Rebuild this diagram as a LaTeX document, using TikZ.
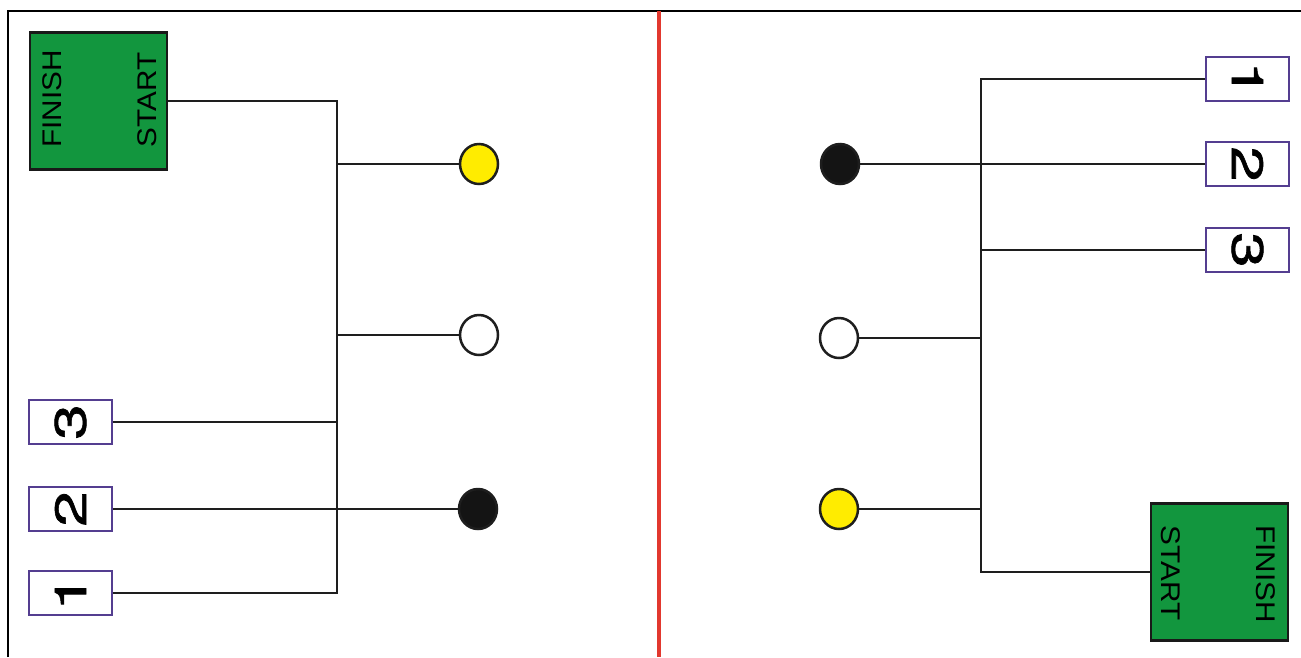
\documentclass[tikz,border=0pt]{standalone}
\usepackage{fontspec}
\newfontfamily\arial{Liberation Sans}
\newfontfamily\digfont[FakeBold=1.2]{TeX Gyre Heros}
\definecolor{boxgreen}{RGB}{18,150,62}
\definecolor{boxpurple}{RGB}{84,62,144}
\definecolor{dotyellow}{RGB}{255,236,0}
\definecolor{redline}{RGB}{226,56,46}
\definecolor{wire}{RGB}{30,30,30}
\usetikzlibrary{shapes.geometric}
\tikzset{
  conn/.style={draw=wire, line width=2.2pt},
  greenbox/.style={draw=black!90, line width=2.8pt, fill=boxgreen, minimum width=137pt, minimum height=137pt, inner sep=0pt},
  numbox/.style={draw=boxpurple, line width=2.2pt, fill=white, minimum width=83pt, minimum height=44pt, inner sep=0pt},
  gblabel/.style={font=\arial\fontsize{27}{27}\selectfont, inner sep=0pt, text=black},
  digit/.style={font=\digfont\fontsize{44}{44}\selectfont, inner sep=0pt},
  dot/.style={ellipse, draw=wire, line width=2.5pt, minimum width=38pt, minimum height=40pt, inner sep=0pt},
}
\begin{document}
\begin{tikzpicture}[x=1pt,y=-1pt]
\useasboundingbox (0,0) rectangle (1301,657);
% frame and divider
\coordinate (fbl) at (8,657);
\coordinate (ftl) at (8,11);
\coordinate (ftr) at (1301,11);
\draw[line width=2.8pt, black] (fbl) -- (ftl) -- (ftr);
\coordinate (rtop) at (659,11);
\coordinate (rbot) at (659,657);
\draw[line width=3.8pt, redline] (rtop) -- (rbot);

% ---------- left half ----------
\node[greenbox] (Lgb) at (98.5,101) {};
\node[gblabel, rotate=90] (Lfin) at (52.5,99) {\scalebox{1.1}[1]{FINISH}};
\node[gblabel, rotate=90] (Lst) at (147.5,100) {\scalebox{1.1}[1]{START}};
\node[numbox] (L3) at (70.5,422) {};
\node[digit, rotate=90] at (L3) {\scalebox{1.45}[1]{3}};
\node[numbox] (L2) at (70.5,509) {};
\node[digit, rotate=90] at (L2) {\scalebox{1.45}[1]{2}};
\node[numbox] (L1) at (70.5,593) {};
\node[digit, rotate=90] at (L1) {\scalebox{1.45}[1]{1}};
\node[dot, fill=dotyellow] (Lyel) at (479,164) {};
\node[dot, fill=white] (Lwht) at (479,335) {};
\node[dot, fill=black!92] (Lblk) at (478,509) {};
\coordinate (Lbt) at (337,101);
\coordinate (Lbb) at (337,593);
\draw[conn] (Lgb.east) -- (Lbt) -- (Lbb) -- (L1.east);
\draw[conn] (L3.east) -- (L3.east -| Lbt);
\draw[conn] (L2.east) -- (Lblk.west);
\draw[conn] (Lyel.west -| Lbt) -- (Lyel.west);
\draw[conn] (Lwht.west -| Lbt) -- (Lwht.west);

% ---------- right half ----------
\node[greenbox] (Rgb) at (1219.5,572) {};
\node[gblabel, rotate=-90] (Rfin) at (1265.5,574) {\scalebox{1.1}[1]{FINISH}};
\node[gblabel, rotate=-90] (Rst) at (1170.5,573) {\scalebox{1.1}[1]{START}};
\node[numbox] (R1) at (1247.5,79) {};
\node[digit, rotate=-90] at (R1) {\scalebox{1.45}[1]{1}};
\node[numbox] (R2) at (1247.5,164) {};
\node[digit, rotate=-90] at (R2) {\scalebox{1.45}[1]{2}};
\node[numbox] (R3) at (1247.5,250) {};
\node[digit, rotate=-90] at (R3) {\scalebox{1.45}[1]{3}};
\node[dot, fill=black!92] (Rblk) at (840,164) {};
\node[dot, fill=white] (Rwht) at (839,338) {};
\node[dot, fill=dotyellow] (Ryel) at (839,509) {};
\coordinate (Rbt) at (981,79);
\coordinate (Rbb) at (981,572);
\draw[conn] (R1.west) -- (Rbt) -- (Rbb) -- (Rgb.west);
\draw[conn] (R3.west) -- (R3.west -| Rbt);
\draw[conn] (R2.west) -- (Rblk.east);
\draw[conn] (Rwht.east -| Rbt) -- (Rwht.east);
\draw[conn] (Ryel.east -| Rbt) -- (Ryel.east);
\end{tikzpicture}
\end{document}
